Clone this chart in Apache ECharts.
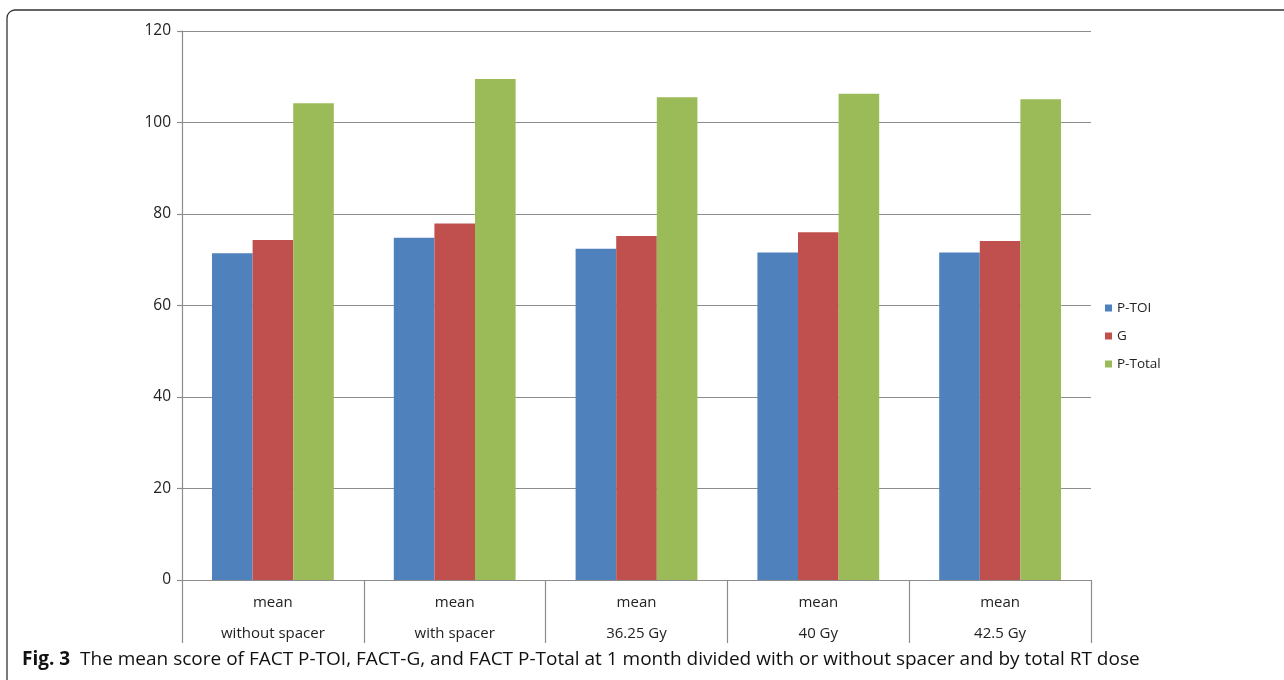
<!DOCTYPE html>
<html>
<head>
<meta charset="utf-8">
<script src="https://cdn.jsdelivr.net/npm/echarts@6/dist/echarts.min.js"></script>
<style>
  html, body { margin: 0; padding: 0; background: #fff; }
  #chart { width: 1284px; height: 680px; }
</style>
</head>
<body>
<div id="chart"></div>
<script>
// Groups along the x axis (two-line labels)
const categories = ['mean\nwithout spacer', 'mean\nwith spacer', 'mean\n36.25 Gy', 'mean\n40 Gy', 'mean\n42.5 Gy'];
const seriesNames = ['P-TOI', 'G', 'P-Total'];
// Mean scores at 1 month
const pToi = [71.4, 74.8, 72.4, 71.6, 71.6];
const factG = [74.3, 77.9, 75.2, 76.0, 74.1];
const pTotal = [104.2, 109.5, 105.5, 106.3, 105.1];
const yTicks = { min: 0, max: 120, interval: 20 };
const captionBold = 'Fig. 3';
const captionText = 'The mean score of FACT P-TOI, FACT-G, and FACT P-Total at 1 month divided with or without spacer and by total RT dose';

const colors = ['#4f81bd', '#c0504d', '#9bbb59'];
const values = [pToi, factG, pTotal];
const axisGray = '#8c8c8c';
const font = 'Open Sans, sans-serif';

const chart = echarts.init(document.getElementById('chart'));
chart.setOption({
  animation: false,
  color: colors,
  textStyle: { fontFamily: font },
  grid: { left: 182, right: 193, top: 31, bottom: 100, containLabel: false },
  legend: {
    orient: 'vertical',
    left: 1100,
    top: 296,
    itemWidth: 7,
    itemHeight: 7,
    itemGap: 14,
    icon: 'rect',
    textStyle: { fontSize: 13.5, color: '#222', fontFamily: font },
    data: seriesNames
  },
  xAxis: {
    type: 'category',
    data: categories,
    boundaryGap: true,
    axisLine: { lineStyle: { color: axisGray, width: 1.2 } },
    axisTick: { show: true, length: 63, lineStyle: { color: axisGray, width: 1.2 } },
    axisLabel: {
      fontSize: 15,
      color: '#222',
      lineHeight: 31,
      margin: 7,
      fontFamily: font
    }
  },
  yAxis: {
    type: 'value',
    min: yTicks.min,
    max: yTicks.max,
    interval: yTicks.interval,
    axisLine: { show: true, lineStyle: { color: axisGray, width: 1.2 } },
    axisTick: { show: true, length: 5, lineStyle: { color: axisGray, width: 1.2 } },
    axisLabel: { fontSize: 15.5, color: '#222', margin: 11, fontFamily: font },
    splitLine: { lineStyle: { color: axisGray, width: 1.2 } }
  },
  series: seriesNames.map((name, i) => ({
    name: name,
    type: 'bar',
    data: values[i],
    barGap: '0%',
    barCategoryGap: '33%',
    itemStyle: { color: colors[i] }
  })),
  graphic: [
    {
      type: 'rect',
      shape: { x: 7, y: 10, width: 1300, height: 700, r: 8 },
      style: { fill: 'none', stroke: '#333', lineWidth: 1.3 },
      silent: true
    },
    {
      type: 'text',
      left: 22,
      top: 650,
      style: {
        text: '{b|' + captionBold + '}  ' + captionText,
        fontSize: 19,
        fill: '#111',
        fontFamily: font,
        rich: { b: { fontWeight: 'bold', fontSize: 19, fill: '#111', fontFamily: font } }
      }
    }
  ]
});
</script>
</body>
</html>
